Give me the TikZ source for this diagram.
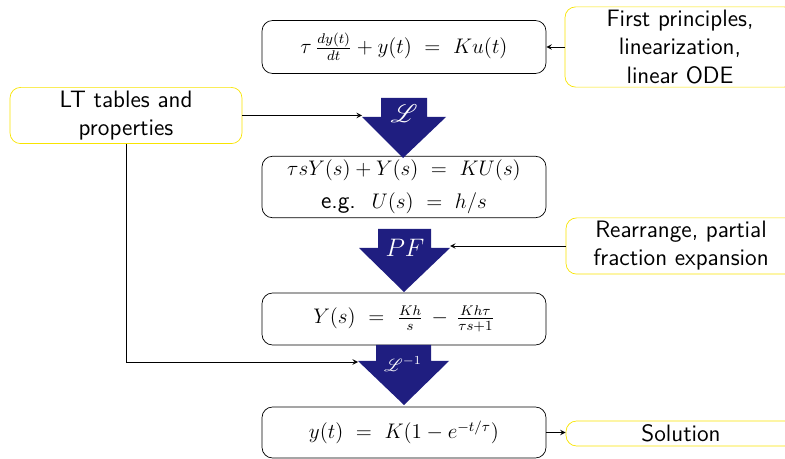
\documentclass[tikz,border=0pt]{standalone}
\usepackage{amsmath}
\usepackage{mathrsfs}
\usepackage{tikz}
\usetikzlibrary{arrows,positioning}
\definecolor{lfnavy}{RGB}{31,30,128}
\definecolor{lfyellow}{RGB}{248,228,0}
\tikzstyle{eqbox} = [draw=black, thin, rounded corners=6, minimum width=5.68cm, inner sep=2pt, align=center, font=\fontsize{11.8}{17}\selectfont]
\tikzstyle{notebox} = [draw=lfyellow, thin, rounded corners=6, inner sep=2pt, align=center, font=\fontsize{13.5}{16}\selectfont\sffamily]
\tikzstyle{arrow} = [thin,->,>=stealth]
\tikzstyle{bigarrow} = [fill=lfnavy, draw=none]

\begin{document}
\begin{tikzpicture}[x=0.02cm, y=-0.02cm]
\useasboundingbox (0,0) rectangle (785,459);
\clip (0,0) rectangle (785,459);
% main chain of equations
\node[eqbox, minimum height=1.06cm] (ode) at (404,47) {$\tau\,\frac{dy(t)}{dt} + y(t) \ = \ Ku(t)$};
\node[eqbox, minimum height=1.16cm] (lap) at (404,187) {$\tau s Y(s) + Y(s) \ = \ KU(s)$\\[2pt] {\fontsize{13.5}{16}\selectfont\textsf{e.g.}} \ $U(s) \ = \ h/s$};
\node[eqbox, minimum height=1.04cm] (pfe) at (404,319) {$Y(s) \ = \ \frac{Kh}{s} \,-\, \frac{Kh\tau}{\tau s+1}$};
\node[eqbox, minimum height=1.02cm] (sol) at (404,432.5) {$y(t) \ = \ K(1 - e^{-t/\tau})$};
% side notes
\node[notebox, minimum width=4.6cm, minimum height=1.6cm] (principles) at (680,47) {First principles,\\ linearization,\\ linear ODE};
\node[notebox, minimum width=4.64cm, minimum height=1.1cm] (tables) at (126,115.5) {LT tables and\\ properties};
\node[notebox, minimum width=4.6cm, minimum height=1.08cm] (rearr) at (681,246) {Rearrange, partial\\ fraction expansion};
\node[notebox, minimum width=4.6cm, minimum height=0.5cm] (solution) at (681,433.5) {Solution};
% big arrows between the steps
\fill[bigarrow] (381,98) -- (427,98) -- (427,117) -- (446,117) -- (403,158) -- (362,117) -- (381,117) -- cycle;
\fill[bigarrow] (378,229) -- (431,229) -- (431,248) -- (450,248) -- (404,292) -- (359,248) -- (378,248) -- cycle;
\fill[bigarrow] (376,345) -- (431,345) -- (431,361) -- (449,361) -- (404,405) -- (358,361) -- (376,361) -- cycle;
\node[white, font=\Large] (lt) at (404,114) {$\mathscr{L}$};
\node[white, font=\Large] (pf) at (405,248) {$PF$};
\node[white] (ilt) at (403,364) {$\mathscr{L}^{-1}$};
\coordinate (ltleft) at (362,117);
\coordinate (pfright) at (450,247);
\coordinate (iltleft) at (358,362);
% connectors
\draw[arrow] (principles.west) -- (ode.east);
\draw[arrow] (tables.east) -- (tables.east -| ltleft);
\draw[arrow] (rearr.west) -- (rearr.west -| pfright);
\draw[arrow] (tables.south) |- (iltleft);
\draw[arrow] (sol.east) -- (sol.east -| solution.west);
\end{tikzpicture}
\end{document}
